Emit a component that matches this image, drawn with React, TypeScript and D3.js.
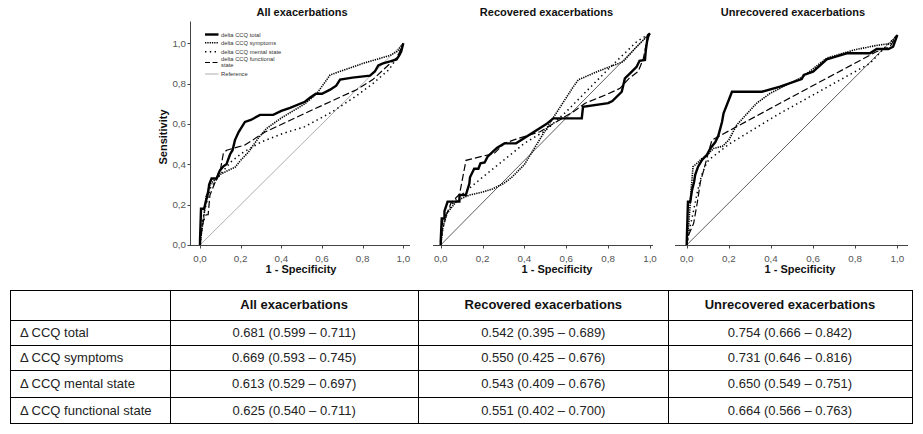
import React from "react";
import * as d3 from "d3";

type P = [number, number];

// ---------- DATA ----------
const panelTitles = ["All exacerbations", "Recovered exacerbations", "Unrecovered exacerbations"];
const tickValues = [0, 0.2, 0.4, 0.6, 0.8, 1.0];
const tickLabels = ["0,0", "0,2", "0,4", "0,6", "0,8", "1,0"];
const legendLabels = ["delta CCQ total", "delta CCQ symptoms", "delta CCQ mental state", "delta CCQ functional state", "Reference"];

const allTotal: P[] = [[0,0],[0,0.02],[0.005,0.18],[0.02,0.18],[0.03,0.22],[0.04,0.26],[0.045,0.3],[0.057,0.33],[0.082,0.33],[0.098,0.37],[0.115,0.39],[0.13,0.4],[0.148,0.45],[0.16,0.47],[0.172,0.52],[0.19,0.56],[0.221,0.61],[0.25,0.62],[0.295,0.645],[0.36,0.645],[0.4,0.665],[0.443,0.68],[0.516,0.71],[0.541,0.73],[0.57,0.75],[0.6,0.75],[0.64,0.77],[0.67,0.79],[0.689,0.82],[0.75,0.83],[0.836,0.84],[0.86,0.86],[0.877,0.89],[0.9,0.9],[0.935,0.91],[0.967,0.92],[0.98,0.94],[0.99,0.96],[1,1]];
const allSymptoms: P[] = [[0,0],[0.01,0.08],[0.02,0.15],[0.03,0.24],[0.049,0.3],[0.08,0.33],[0.1,0.35],[0.139,0.37],[0.172,0.385],[0.2,0.42],[0.238,0.46],[0.287,0.53],[0.328,0.578],[0.4,0.63],[0.516,0.7],[0.574,0.75],[0.64,0.843],[0.8,0.9],[0.935,0.94],[0.97,0.96],[1,1]];
const allMental: P[] = [[0,0],[0.01,0.1],[0.02,0.16],[0.035,0.22],[0.05,0.28],[0.07,0.31],[0.1,0.35],[0.15,0.41],[0.205,0.455],[0.303,0.512],[0.4,0.55],[0.516,0.587],[0.65,0.66],[0.77,0.74],[0.85,0.8],[0.93,0.87],[0.97,0.93],[1,1]];
const allFunctional: P[] = [[0,0],[0.005,0.05],[0.016,0.116],[0.03,0.15],[0.04,0.15],[0.049,0.248],[0.07,0.3],[0.09,0.355],[0.1,0.37],[0.115,0.455],[0.131,0.47],[0.221,0.496],[0.32,0.56],[0.516,0.653],[0.77,0.77],[0.85,0.82],[0.935,0.9],[0.97,0.93],[1,1]];

const recTotal: P[] = [[0,0],[0,0.016],[0.005,0.126],[0.018,0.126],[0.018,0.16],[0.033,0.205],[0.089,0.205],[0.09,0.236],[0.12,0.236],[0.137,0.29],[0.14,0.32],[0.16,0.36],[0.18,0.36],[0.19,0.386],[0.21,0.39],[0.224,0.417],[0.248,0.44],[0.27,0.46],[0.304,0.48],[0.36,0.48],[0.503,0.57],[0.538,0.598],[0.674,0.598],[0.68,0.653],[0.8,0.67],[0.82,0.68],[0.865,0.724],[0.88,0.787],[0.913,0.819],[0.936,0.842],[0.95,0.87],[0.976,0.874],[0.98,0.92],[0.99,0.99],[1,1]];
const recSymptoms: P[] = [[0,0],[0.01,0.08],[0.03,0.15],[0.07,0.2],[0.1,0.22],[0.137,0.236],[0.2,0.25],[0.248,0.265],[0.3,0.29],[0.34,0.32],[0.4,0.38],[0.474,0.5],[0.55,0.62],[0.634,0.748],[0.657,0.78],[0.75,0.82],[0.872,0.866],[0.93,0.93],[0.97,0.97],[1,1]];
const recMental: P[] = [[0,0],[0.01,0.08],[0.03,0.15],[0.06,0.2],[0.089,0.228],[0.2,0.32],[0.3,0.4],[0.4,0.48],[0.5,0.54],[0.6,0.63],[0.7,0.73],[0.8,0.83],[0.936,0.96],[1,1]];
const recFunctional: P[] = [[0,0],[0.005,0.05],[0.01,0.12],[0.03,0.15],[0.05,0.2],[0.09,0.24],[0.121,0.4],[0.256,0.433],[0.304,0.48],[0.36,0.5],[0.474,0.535],[0.634,0.63],[0.69,0.67],[0.79,0.71],[0.857,0.74],[0.9,0.787],[0.944,0.82],[0.968,0.88],[0.98,0.94],[1,1]];

const unrTotal: P[] = [[0,0],[0,0.008],[0.006,0.206],[0.017,0.206],[0.025,0.26],[0.035,0.3],[0.04,0.333],[0.054,0.373],[0.073,0.405],[0.096,0.43],[0.112,0.46],[0.136,0.49],[0.15,0.52],[0.168,0.587],[0.175,0.627],[0.215,0.73],[0.357,0.73],[0.443,0.754],[0.546,0.79],[0.556,0.81],[0.6,0.825],[0.665,0.884],[0.7,0.895],[0.76,0.913],[0.87,0.913],[0.902,0.933],[0.958,0.933],[0.98,0.944],[1,1]];
const unrSymptoms: P[] = [[0,0],[0.01,0.1],[0.02,0.25],[0.03,0.373],[0.05,0.39],[0.07,0.41],[0.1,0.43],[0.127,0.46],[0.17,0.47],[0.2,0.5],[0.237,0.571],[0.3,0.64],[0.332,0.675],[0.396,0.722],[0.47,0.76],[0.55,0.8],[0.665,0.89],[0.8,0.93],[0.9,0.95],[0.97,0.96],[0.99,0.99],[1,1]];
const unrMental: P[] = [[0,0],[0.01,0.06],[0.03,0.15],[0.05,0.25],[0.07,0.33],[0.09,0.38],[0.104,0.405],[0.15,0.44],[0.2,0.48],[0.443,0.627],[0.87,0.865],[0.95,0.95],[1,1]];
const unrFunctional: P[] = [[0,0],[0.01,0.05],[0.033,0.103],[0.05,0.2],[0.065,0.3],[0.081,0.357],[0.1,0.43],[0.12,0.5],[0.443,0.675],[0.9,0.92],[0.965,0.944],[1,1]];

const referenceLine: P[] = [[0,0],[1,1]];

const tableHeaders = ["", "All exacerbations", "Recovered exacerbations", "Unrecovered exacerbations"];
const tableRowLabels = ["\u0394 CCQ total", "\u0394 CCQ symptoms", "\u0394 CCQ mental state", "\u0394 CCQ functional state"];
const aucAll = ["0.681 (0.599 \u2013 0.711)", "0.669 (0.593 \u2013 0.745)", "0.613 (0.529 \u2013 0.697)", "0.625 (0.540 \u2013 0.711)"];
const aucRecovered = ["0.542 (0.395 \u2013 0.689)", "0.550 (0.425 \u2013 0.676)", "0.543 (0.409 \u2013 0.676)", "0.551 (0.402 \u2013 0.700)"];
const aucUnrecovered = ["0.754 (0.666 \u2013 0.842)", "0.731 (0.646 \u2013 0.816)", "0.650 (0.549 \u2013 0.751)", "0.664 (0.566 \u2013 0.763)"];

// ---------- STYLES ----------
const FONT = "Liberation Sans, Arial, sans-serif";
const seriesStyles = [
  { width: 2.4, dash: undefined as string | undefined },
  { width: 1.6, dash: "1.3,1" },
  { width: 1.5, dash: "1.4,3.4" },
  { width: 1.2, dash: "7,3" },
];

type PanelDef = {
  title: string;
  series: P[][];
  x0: number; x1: number; y0: number; y1: number;
  axisLeft: number; axisRight: number;
  showY: boolean; refColor: string; titleX: number; xLabelX: number;
};

const panels: PanelDef[] = [
  { title: panelTitles[0], series: [allTotal, allSymptoms, allMental, allFunctional], x0: 200, x1: 403.3, y0: 245, y1: 43.3, axisLeft: 190, axisRight: 410, showY: true, refColor: "#9a9a9a", titleX: 302, xLabelX: 301 },
  { title: panelTitles[1], series: [recTotal, recSymptoms, recMental, recFunctional], x0: 440.7, x1: 650, y0: 245, y1: 33.3, axisLeft: 433, axisRight: 653, showY: false, refColor: "#333", titleX: 546.5, xLabelX: 557 },
  { title: panelTitles[2], series: [unrTotal, unrSymptoms, unrMental, unrFunctional], x0: 686.7, x1: 897.3, y0: 245, y1: 35, axisLeft: 675, axisRight: 908, showY: false, refColor: "#333", titleX: 793, xLabelX: 800 },
];

function Panel({ p }: { p: PanelDef }) {
  const x = d3.scaleLinear().domain([0, 1]).range([p.x0, p.x1]);
  const y = d3.scaleLinear().domain([0, 1]).range([p.y0, p.y1]);
  const line = d3.line<P>().x((d) => x(d[0])).y((d) => y(d[1]));
  const axisY = p.y0 + 0.5;
  return (
    <g>
      <text x={p.titleX} y={16} textAnchor="middle" fontFamily={FONT} fontWeight="bold" fontSize={11} fill="#111">{p.title}</text>
      <path d={line(referenceLine) || ""} fill="none" stroke={p.refColor} strokeWidth={0.8} />
      {p.series.map((s, i) => (
        <path key={i} d={line(s) || ""} fill="none" stroke="#000" strokeWidth={seriesStyles[i].width}
          strokeDasharray={seriesStyles[i].dash} strokeLinejoin="miter" />
      ))}
      <line x1={p.axisLeft} x2={p.axisRight} y1={axisY} y2={axisY} stroke="#444" strokeWidth={1} />
      {tickValues.map((t, i) => (
        <g key={i}>
          <line x1={Math.round(x(t)) + 0.5} x2={Math.round(x(t)) + 0.5} y1={axisY} y2={axisY + 3} stroke="#444" />
          <text x={x(t)} y={261.5} textAnchor="middle" fontFamily={FONT} fontSize={9.8} fill="#555">{tickLabels[i]}</text>
        </g>
      ))}
      <text x={p.xLabelX} y={272.5} textAnchor="middle" fontFamily={FONT} fontWeight="bold" fontSize={11} fill="#111">1 - Specificity</text>
      {p.showY && (
        <g>
          <line x1={p.axisLeft + 0.5} x2={p.axisLeft + 0.5} y1={21.5} y2={axisY} stroke="#444" />
          {tickValues.map((t, i) => (
            <g key={i}>
              <line x1={p.axisLeft - 2.5} x2={p.axisLeft + 0.5} y1={Math.round(y(t)) + 0.5} y2={Math.round(y(t)) + 0.5} stroke="#444" />
              <text x={186} y={y(t) + 3.3} textAnchor="end" fontFamily={FONT} fontSize={9.8} fill="#555">{tickLabels[i]}</text>
            </g>
          ))}
          <text transform={`translate(167,137) rotate(-90)`} textAnchor="middle" fontFamily={FONT} fontWeight="bold" fontSize={11} fill="#111">Sensitivity</text>
        </g>
      )}
    </g>
  );
}

function Legend() {
  const rows = [34.5, 42.7, 51.8, 62.5, 74];
  const lx0 = 205, lx1 = 218.5, tx = 221;
  return (
    <g fontFamily={FONT} fontSize={5.8} fill="#333">
      {rows.map((ry, i) => {
        const isRef = i === 4;
        const st = isRef ? { width: 0.8, dash: undefined } : seriesStyles[i];
        return (
          <g key={i}>
            <line x1={lx0} x2={lx1} y1={ry} y2={ry} stroke={isRef ? "#9a9a9a" : "#000"} strokeWidth={isRef ? 0.8 : st.width}
              strokeDasharray={i === 3 ? "5,2.5" : st.dash} />
            {i === 3 ? (
              <>
                <text x={tx} y={ry - 1.5}>delta CCQ functional</text>
                <text x={tx} y={ry + 4.5}>state</text>
              </>
            ) : (
              <text x={tx} y={ry + 2}>{legendLabels[i]}</text>
            )}
          </g>
        );
      })}
    </g>
  );
}

function Table() {
  const cols = [10, 170, 418.3, 668.3, 911.7];
  const rows = [290, 320, 345, 370, 396.7, 423.3];
  const colsData = [aucAll, aucRecovered, aucUnrecovered];
  return (
    <g fontFamily={FONT}>
      {rows.map((r, i) => (
        <line key={"r" + i} x1={cols[0]} x2={cols[cols.length - 1] + 1} y1={Math.round(r) + 0.5} y2={Math.round(r) + 0.5} stroke="#000" />
      ))}
      {cols.map((c, i) => (
        <line key={"c" + i} x1={Math.round(c) + 0.5} x2={Math.round(c) + 0.5} y1={rows[0]} y2={Math.round(rows[rows.length - 1]) + 1} stroke="#000" />
      ))}
      {tableHeaders.map((h, i) =>
        i === 0 ? null : (
          <text key={"h" + i} x={(cols[i] + cols[i + 1]) / 2} y={309} textAnchor="middle" fontWeight="bold" fontSize={13} fill="#111">{h}</text>
        )
      )}
      {tableRowLabels.map((lab, ri) => {
        const cy = (rows[ri + 1] + rows[ri + 2]) / 2 + 4.6;
        return (
          <g key={"tr" + ri}>
            <text x={20} y={cy} fontSize={13} fill="#222">{lab}</text>
            {colsData.map((cd, ci) => (
              <text key={ci} x={(cols[ci + 1] + cols[ci + 2]) / 2} y={cy} textAnchor="middle" fontSize={13} fill="#222">{cd[ri]}</text>
            ))}
          </g>
        );
      })}
    </g>
  );
}

export default function App() {
  return (
    <svg width={923} height={434} style={{ position: "absolute", left: 0, top: 0, background: "#fff" }}>
      <rect x={0} y={0} width={923} height={434} fill="#fff" />
      {panels.map((p, i) => (
        <Panel key={i} p={p} />
      ))}
      <Legend />
      <Table />
    </svg>
  );
}
